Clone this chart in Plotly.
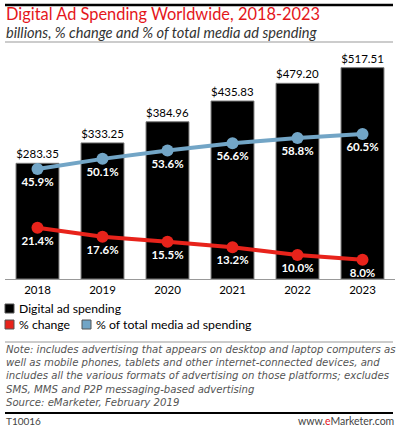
import plotly.graph_objects as go

# datos
years = ["2018", "2019", "2020", "2021", "2022", "2023"]
spending = [283.35, 333.25, 384.96, 435.83, 479.20, 517.51]
pct_change = [21.4, 17.6, 15.5, 13.2, 10.0, 8.0]
pct_total = [45.9, 50.1, 53.6, 56.6, 58.8, 60.5]

note_lines = [
    "Note: includes advertising that appears on desktop and laptop computers as",
    "well as mobile phones, tablets and other internet-connected devices, and",
    "includes all the various formats of advertising on those platforms; excludes",
    "SMS, MMS and P2P messaging-based advertising",
    "Source: eMarketer, February 2019",
]

RED = "#e8231b"
BLUE = "#72a5c6"
FONT = "Lato"

# area de trazado: x 5..395 px, y 50..279 px
W, H = 400, 431
L, R, T, B = 5, 395, 50, 279


def px(x):
    return (x - L) / (R - L)


def py(y):
    return (B - y) / (B - T)


fig = go.Figure()

fig.add_trace(go.Bar(
    x=years, y=spending,
    marker=dict(color="black", line=dict(color="#777", width=1)),
    texttemplate="$%{y:.2f}", textposition="outside",
    textfont=dict(color="black", size=11.5, family=FONT),
    cliponaxis=False, showlegend=False,
))

fig.add_trace(go.Scatter(
    x=years, y=pct_total, yaxis="y2",
    mode="lines+markers+text",
    line=dict(color=BLUE, width=4),
    marker=dict(color=BLUE, size=12),
    text=[f"{v:.1f}%" for v in pct_total], textposition="bottom center",
    textfont=dict(color="white", size=11.5, family=FONT, weight="bold"),
    cliponaxis=False, showlegend=False,
))

fig.add_trace(go.Scatter(
    x=years, y=pct_change, yaxis="y2",
    mode="lines+markers+text",
    line=dict(color=RED, width=4),
    marker=dict(color=RED, size=12),
    text=[f"{v:.1f}%" for v in pct_change], textposition="bottom center",
    textfont=dict(color="white", size=11.5, family=FONT, weight="bold"),
    cliponaxis=False, showlegend=False,
))

anns = [
    dict(text="Digital Ad Spending Worldwide, 2018-2023", x=px(5), y=py(13.5),
         font=dict(color="#e4161b", size=16.4, family=FONT)),
    dict(text="<i>billions, % change and % of total media ad spending</i>", x=px(5), y=py(33),
         font=dict(color="#333", size=14.6, family=FONT)),
    dict(text="Digital ad spending", x=px(18), y=py(308),
         font=dict(color="black", size=12.2, family=FONT)),
    dict(text="% change", x=px(18), y=py(324),
         font=dict(color="black", size=12.2, family=FONT)),
    dict(text="% of total media ad spending", x=px(95), y=py(324),
         font=dict(color="black", size=12.3, family=FONT)),
    dict(text="T10016", x=px(5), y=py(421),
         font=dict(color="#444", size=10, family=FONT)),
    # nota en un solo bloque (interlineado de plotly = 1.3 em)
    dict(text="<i>" + "<br>".join(note_lines) + "</i>", x=px(5), y=py(376.4), align="left",
         font=dict(color="#555", size=10.15, family="DejaVu Sans")),
    dict(text="www.<span style='color:#e4161b'>e</span>Marketer.com",
         x=px(395), y=py(421), xanchor="right",
         font=dict(color="#444", size=10.5, family=FONT)),
]
for a in anns:
    a.setdefault("xanchor", "left")
    a.update(xref="paper", yref="paper", yanchor="middle", showarrow=False, borderpad=0)

shapes = [
    dict(type="line", x0=px(5), x1=px(393), y0=py(5), y1=py(5), line=dict(color="black", width=2.5)),
    dict(type="line", x0=px(5), x1=px(393), y0=py(42), y1=py(42), line=dict(color="#999", width=1)),
    dict(type="line", x0=px(5), x1=px(393), y0=py(342), y1=py(342), line=dict(color="#999", width=1)),
    dict(type="line", x0=px(5), x1=px(393), y0=py(413), y1=py(413), line=dict(color="black", width=2)),
    dict(type="rect", x0=px(5), x1=px(14), y0=py(304), y1=py(313), fillcolor="black", line=dict(color="#555", width=1)),
    dict(type="rect", x0=px(5), x1=px(14), y0=py(320), y1=py(329), fillcolor=RED, line=dict(color="#555", width=1)),
    dict(type="rect", x0=px(82), x1=px(91), y0=py(320), y1=py(329), fillcolor=BLUE, line=dict(color="#555", width=1)),
]
for s in shapes:
    s.update(xref="paper", yref="paper")

fig.update_layout(
    width=W, height=H,
    margin=dict(l=L, r=W - R, t=T, b=H - B, pad=0),
    paper_bgcolor="white", plot_bgcolor="white",
    bargap=0.34,
    xaxis=dict(type="category", range=[-0.5, 5.5], showgrid=False,
               showline=True, linecolor="#999", linewidth=1, ticks="",
               tickfont=dict(color="black", size=11.5, family=FONT)),
    yaxis=dict(range=[0, 560.8], visible=False),
    yaxis2=dict(range=[0, 95.5], overlaying="y", visible=False),
    annotations=anns,
    shapes=shapes,
    font=dict(family=FONT),
)

# quitar el margen del body para que la figura quede en (0, 0)
fig.write_html("out.html", config={"displayModeBar": False},
               post_script="document.body.style.margin='0';")
